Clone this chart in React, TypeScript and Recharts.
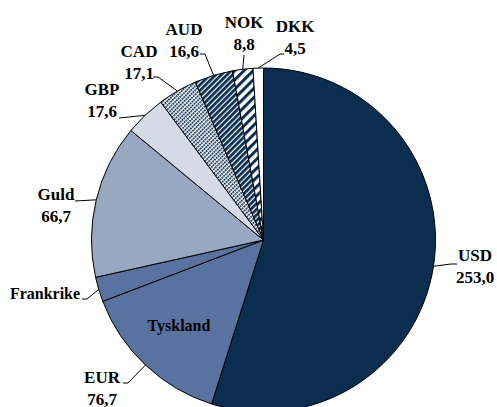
import { PieChart, Pie, Cell } from "recharts";

const names = ["USD", "Tyskland", "Frankrike", "Guld", "GBP", "CAD", "AUD", "NOK", "DKK"];
const values = [253.0, 66.0, 10.7, 66.7, 17.6, 17.1, 16.6, 8.8, 4.5];
const labelLines: string[][] = [
  ["USD", "253,0"],
  ["EUR", "76,7"],
  ["Frankrike"],
  ["Guld", "66,7"],
  ["GBP", "17,6"],
  ["CAD", "17,1"],
  ["AUD", "16,6"],
  ["NOK", "8,8"],
  ["DKK", "4,5"],
];

const data = names.map((n, i) => ({ name: n, value: values[i] }));

const NAVY = "#0b2e50";
const fills = ["#0b2e50", "#5a72a0", "#5a72a0", "#97a8c0", "#d4dae6", "url(#pCad)", "url(#pAud)", "url(#pNok)", "#ffffff"];

// label placement: text centre x, first baseline y, font size, leader path after the arc point
const layout: Record<string, { x: number; y: number; size: number; path: [number, number][] }> = {
  USD: { x: 475, y: 261, size: 17, path: [[451, 264], [457, 264]] },
  Tyskland: { x: 102, y: 383, size: 17, path: [[128, 383], [123, 383]] },
  Frankrike: { x: 45, y: 299, size: 16, path: [[87, 299], [82, 299]] },
  Guld: { x: 56, y: 200, size: 17, path: [[75, 201]] },
  GBP: { x: 102, y: 95, size: 17, path: [[119, 118]] },
  CAD: { x: 139, y: 57, size: 17, path: [[158, 77], [153, 77]] },
  AUD: { x: 184, y: 35, size: 17, path: [[205, 54], [200, 54]] },
  NOK: { x: 244, y: 28, size: 17, path: [[244, 55]] },
  DKK: { x: 295, y: 32, size: 17, path: [[280, 54], [284, 54]] },
};

const RAD = Math.PI / 180;
const font = "'Liberation Serif', 'Times New Roman', Times, serif";

const renderLabel = (props: any) => {
  const { cx, cy, midAngle, outerRadius, index } = props;
  const name = names[index];
  const cfg = layout[name];
  const ax = cx + outerRadius * Math.cos(-midAngle * RAD);
  const ay = cy + outerRadius * Math.sin(-midAngle * RAD);
  const pts = [[ax, ay], ...cfg.path].map((p) => p.join(",")).join(" ");
  return (
    <g key={`lbl-${index}`}>
      <polyline points={pts} fill="none" stroke="#000" strokeWidth={1} />
      <text
        x={cfg.x}
        y={cfg.y}
        textAnchor="middle"
        style={{ fontFamily: font, fontWeight: "bold", fontSize: cfg.size }}
        fill="#000"
      >
        {labelLines[index].map((t, j) => (
          <tspan key={j} x={cfg.x} y={cfg.y + j * 21.5}>
            {t}
          </tspan>
        ))}
      </text>
      {name === "Tyskland" && (
        <text x={179} y={331} textAnchor="middle" style={{ fontFamily: font, fontWeight: "bold", fontSize: 16 }} fill="#000">
          Tyskland
        </text>
      )}
    </g>
  );
};

export default function App() {
  return (
    <div style={{ position: "absolute", left: 0, top: 0, width: 497, height: 407, background: "#fff" }}>
      <PieChart width={497} height={407} margin={{ top: 0, right: 0, bottom: 0, left: 0 }}>
        <defs>
          <pattern id="pCad" width={3} height={2.5} patternUnits="userSpaceOnUse" patternTransform="rotate(45)">
            <rect width={3} height={2.5} fill="#fff" />
            <rect x={0} y={0} width={1.7} height={1.9} fill={NAVY} />
          </pattern>
          <pattern id="pAud" width={4} height={4} patternUnits="userSpaceOnUse" patternTransform="rotate(45)">
            <rect width={4} height={4} fill="#fff" />
            <rect x={0} y={0} width={2.8} height={4} fill={NAVY} />
          </pattern>
          <pattern id="pNok" width={6.5} height={6.5} patternUnits="userSpaceOnUse" patternTransform="rotate(45)">
            <rect width={6.5} height={6.5} fill="#fff" />
            <rect x={0} y={0} width={3} height={6.5} fill={NAVY} />
          </pattern>
        </defs>
        <Pie
          data={data}
          dataKey="value"
          nameKey="name"
          cx={263.5}
          cy={240}
          outerRadius={172}
          startAngle={90}
          endAngle={-270}
          stroke="#000"
          strokeWidth={1}
          label={renderLabel}
          labelLine={false}
          isAnimationActive={false}
        >
          {data.map((d, i) => (
            <Cell key={d.name} fill={fills[i]} />
          ))}
        </Pie>
      </PieChart>
    </div>
  );
}
